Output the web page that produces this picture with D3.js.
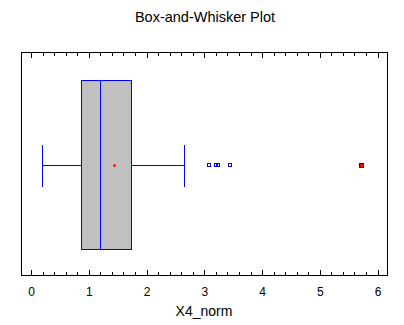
<!DOCTYPE html>
<html>
<head>
<meta charset="utf-8">
<script src="https://cdn.jsdelivr.net/npm/d3@7"></script>
<style>
  html, body { margin: 0; padding: 0; background: #fff; }
  svg { display: block; font-family: "Liberation Sans", Arial, sans-serif; }
</style>
</head>
<body>
<svg id="chart" width="404" height="325"></svg>
<script>
// Summary statistics of X4_norm
const variableName = "X4_norm";
const categories = [variableName];
const whiskerLow = [0.196];
const quartile1 = [0.87];
const medians = [1.2];
const quartile3 = [1.735];
const whiskerHigh = [2.654];
const means = [1.445];
const outsidePoints = [3.08, 3.20, 3.23, 3.445];
const farOutsidePoints = [5.72];
const tickValues = [0, 1, 2, 3, 4, 5, 6];

const svg = d3.select("#chart");
const frame = { left: 21, right: 388, top: 52, bottom: 276 };

const x = d3.scaleLinear().domain([-0.173, 6.18]).range([frame.left, frame.right]);
const y = d3.scaleBand().domain(categories).range([frame.top, frame.bottom])
  .paddingInner(0).paddingOuter(0.163);

const blue = "#0000ff";
const red = "#ff0000";

// Title
svg.append("text")
  .attr("x", 205).attr("y", 22)
  .attr("text-anchor", "middle")
  .attr("font-size", 14.5)
  .attr("fill", "#000")
  .text("Box-and-Whisker Plot");

// Plot frame
svg.append("rect")
  .attr("x", frame.left + 0.5).attr("y", frame.top + 0.5)
  .attr("width", frame.right - frame.left - 1)
  .attr("height", frame.bottom - frame.top - 1)
  .attr("fill", "none").attr("stroke", "#000").attr("stroke-width", 1);

// Tick marks on bottom and top edges (majors every 1, minors every 0.2)
const minorTicks = d3.range(0, 31).map(i => i * 0.2).filter(v => x(v) < frame.right - 1);
const tickG = svg.append("g").attr("shape-rendering", "crispEdges");
minorTicks.forEach(v => {
  const isMajor = Math.abs(v - Math.round(v)) < 1e-6;
  const len = isMajor ? 5 : 3;
  const px = Math.round(x(v)) + 0.5;
  tickG.append("line")
    .attr("x1", px).attr("x2", px)
    .attr("y1", frame.bottom - 1).attr("y2", frame.bottom - 1 - len)
    .attr("stroke", "#000");
  tickG.append("line")
    .attr("x1", px).attr("x2", px)
    .attr("y1", frame.top + 1).attr("y2", frame.top + 1 + len)
    .attr("stroke", "#000");
});

// Bottom axis labels via d3 axis
const axis = d3.axisBottom(x).tickValues(tickValues).tickSize(0).tickPadding(0)
  .tickFormat(d3.format("d"));
const axisG = svg.append("g").attr("transform", `translate(0,${frame.bottom})`).call(axis);
axisG.select(".domain").remove();
axisG.selectAll("text")
  .attr("y", 20).attr("dy", 0)
  .attr("font-size", 12)
  .attr("font-family", "Liberation Sans, Arial, sans-serif")
  .attr("fill", "#000");

// Axis title
svg.append("text")
  .attr("x", 204).attr("y", 316)
  .attr("text-anchor", "middle")
  .attr("font-size", 14)
  .attr("fill", "#000")
  .text(variableName);

// Box-and-whisker
const plot = svg.append("g").attr("shape-rendering", "crispEdges");
categories.forEach((c, i) => {
  const top = Math.round(y(c));
  const bw = Math.round(y.bandwidth());
  const cy = Math.round(top + bw / 2) + 0.5;
  const capHalf = Math.round(bw / 8);
  const px = v => Math.round(x(v)) + 0.5;

  // whisker lines
  plot.append("line").attr("x1", px(whiskerLow[i])).attr("x2", px(quartile1[i]))
    .attr("y1", cy).attr("y2", cy).attr("stroke", blue);
  plot.append("line").attr("x1", px(quartile3[i])).attr("x2", px(whiskerHigh[i]))
    .attr("y1", cy).attr("y2", cy).attr("stroke", blue);
  // whisker caps
  [whiskerLow[i], whiskerHigh[i]].forEach(v => {
    plot.append("line").attr("x1", px(v)).attr("x2", px(v))
      .attr("y1", cy - capHalf).attr("y2", cy + capHalf).attr("stroke", blue);
  });
  // box
  plot.append("rect")
    .attr("x", px(quartile1[i])).attr("y", top + 0.5)
    .attr("width", px(quartile3[i]) - px(quartile1[i]))
    .attr("height", bw)
    .attr("fill", "#c0c0c0").attr("stroke", blue);
  // median
  plot.append("line").attr("x1", px(medians[i])).attr("x2", px(medians[i]))
    .attr("y1", top + 0.5).attr("y2", top + bw + 0.5).attr("stroke", blue);
  // mean marker
  const mx = px(means[i]);
  plot.append("line").attr("x1", mx - 1.5).attr("x2", mx + 1.5)
    .attr("y1", cy).attr("y2", cy).attr("stroke", red);
  plot.append("line").attr("x1", mx).attr("x2", mx)
    .attr("y1", cy - 1.5).attr("y2", cy + 1.5).attr("stroke", red);

  // outside points
  outsidePoints.forEach(v => {
    plot.append("rect")
      .attr("x", Math.round(x(v)) - 1.5).attr("y", cy - 2)
      .attr("width", 3).attr("height", 3)
      .attr("fill", "none").attr("stroke", blue);
  });
  // far outside points: square with a red plus over it
  farOutsidePoints.forEach(v => {
    const fx = Math.round(x(v)) + 0.5;
    plot.append("rect")
      .attr("x", fx - 2).attr("y", cy - 2)
      .attr("width", 4).attr("height", 4)
      .attr("fill", red).attr("stroke", blue);
    plot.append("line").attr("x1", fx - 2).attr("x2", fx + 2)
      .attr("y1", cy).attr("y2", cy).attr("stroke", red);
    plot.append("line").attr("x1", fx).attr("x2", fx)
      .attr("y1", cy - 2).attr("y2", cy + 2).attr("stroke", red);
  });
});
</script>
</body>
</html>
